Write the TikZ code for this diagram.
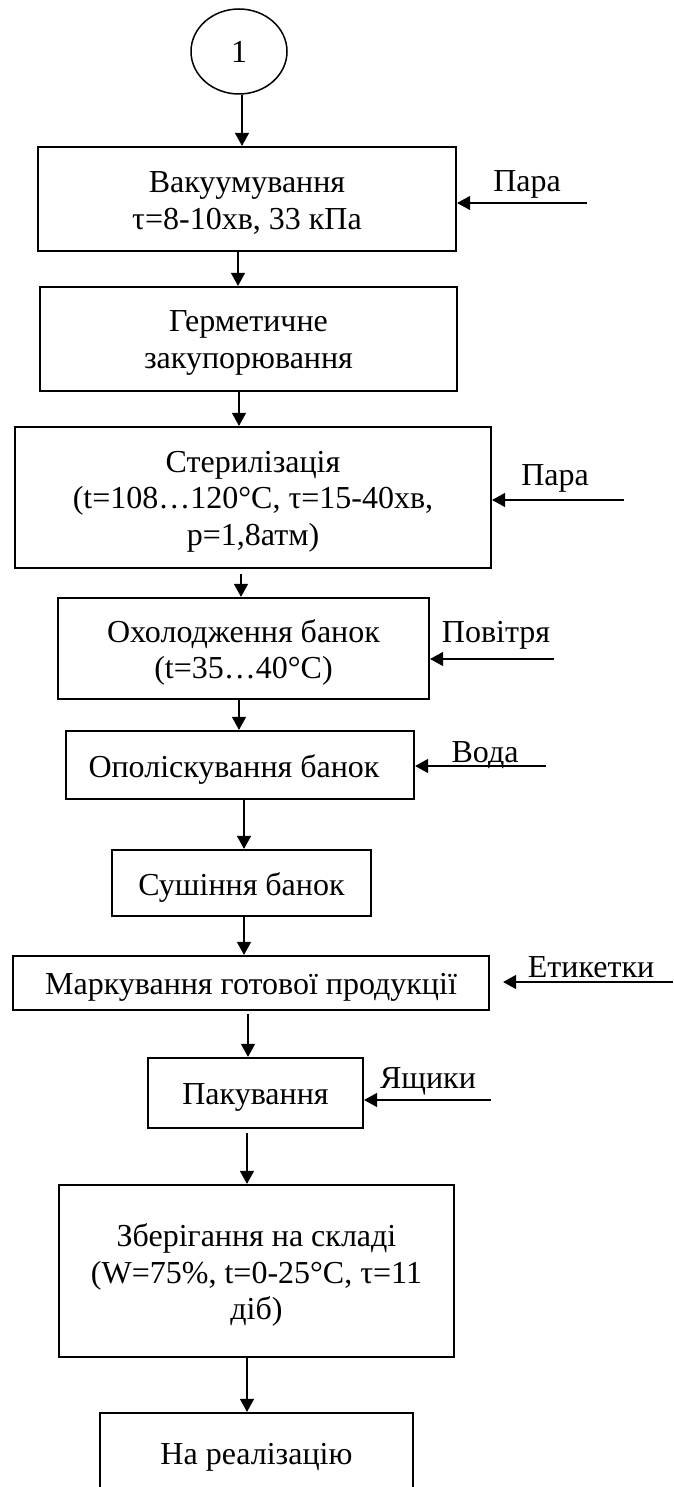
\documentclass[tikz,border=0pt]{standalone}
\usepackage{fontspec}
\setmainfont{Liberation Serif}
\usetikzlibrary{shapes.geometric,arrows.meta}
\begin{document}
\begin{tikzpicture}[x=1pt,y=-1pt,
  every node/.style={font=\fontsize{32}{36.5}\selectfont},
  proc/.style={draw,line width=2.2pt,inner sep=0pt},
  txt/.style={align=center,inner sep=0pt,yshift=-4pt},
  arr/.style={line width=1.1pt,-{Triangle[length=13pt,width=14pt]}},
  lbl/.style={anchor=base,inner sep=0pt}]
\fill[white] (0,0) rectangle (673,1487);
\useasboundingbox (0,0) rectangle (673,1487);
% start connector
\node[ellipse,draw,line width=1.5pt,minimum width=96pt,minimum height=85pt,inner sep=0pt] (c1) at (239,51.5) {1};
% process boxes
\node[proc,minimum width=418pt,minimum height=104pt] (b1) at (247,199) {};
\node[proc,minimum width=417pt,minimum height=104pt] (b2) at (248.5,339) {};
\node[proc,minimum width=476pt,minimum height=141pt] (b3) at (253,497.5) {};
\node[proc,minimum width=371pt,minimum height=101pt] (b4) at (243.5,648.5) {};
\node[proc,minimum width=348pt,minimum height=68pt] (b5) at (240,765) {};
\node[proc,minimum width=259pt,minimum height=66pt] (b6) at (241.5,883) {};
\node[proc,minimum width=476pt,minimum height=54pt] (b7) at (251,983) {};
\node[proc,minimum width=215pt,minimum height=70pt] (b8) at (255.5,1093) {};
\node[proc,minimum width=395pt,minimum height=172pt] (b9) at (256.5,1271) {};
\node[proc,minimum width=313pt,minimum height=80pt] (b10) at (256.5,1453) {};
% box texts
\node[txt] (t1) at (b1) {Вакуумування\\τ=8-10хв, 33 кПа};
\node[txt] (t2) at (b2) {Герметичне\\закупорювання};
\node[txt] (t3) at (b3) {Стерилізація\\(t=108…120°C, τ=15-40хв,\\p=1,8атм)};
\node[txt] (t4) at (b4) {Охолодження банок\\(t=35…40°C)};
\node[txt,xshift=-6pt] (t5) at (b5) {Ополіскування банок};
\node[txt] (t6) at (b6) {Сушіння банок};
\node[txt] (t7) at (b7) {Маркування готової продукції};
\node[txt] (t8) at (b8) {Пакування};
\node[txt] (t9) at (b9) {Зберігання на складі\\(W=75\%, t=0-25°C, τ=11\\діб)};
\node[txt] (t10) at (b10) {На реалізацію};
% x positions of vertical connectors
\coordinate (v1) at (242,0);
\coordinate (v2) at (238,0);
\coordinate (v3) at (239,0);
\coordinate (v4) at (241,0);
\coordinate (v5) at (239,0);
\coordinate (v6) at (244,0);
\coordinate (v7) at (244,0);
\coordinate (v8) at (248,0);
\coordinate (v9) at (247,0);
\coordinate (v10) at (247,0);
\draw[arr] (c1.south -| v1) -- (b1.north -| v1);
\draw[arr] (b1.south -| v2) -- (b2.north -| v2);
\draw[arr] (b2.south -| v3) -- (b3.north -| v3);
\draw[arr,shorten <=5pt] (b3.south -| v4) -- (b4.north -| v4);
\draw[arr] (b4.south -| v5) -- (b5.north -| v5);
\draw[arr] (b5.south -| v6) -- (b6.north -| v6);
\draw[arr] (b6.south -| v7) -- (b7.north -| v7);
\draw[arr,shorten <=3pt] (b7.south -| v8) -- (b8.north -| v8);
\draw[arr,shorten <=4pt] (b8.south -| v9) -- (b9.north -| v9);
\draw[arr] (b9.south -| v10) -- (b10.north -| v10);
% side inputs
\coordinate (s1) at (587,203);
\coordinate (s3) at (624,500);
\coordinate (s4) at (554,659);
\coordinate (s5) at (546,766);
\coordinate (s7) at (673,982);
\coordinate (s8) at (491,1100);
\draw[arr] (s1) -- (b1.east |- s1);
\draw[arr] (s3) -- (b3.east |- s3);
\draw[arr] (s4) -- (b4.east |- s4);
\draw[arr] (s5) -- (b5.east |- s5);
\draw[arr,shorten >=13pt] (s7) -- (b7.east |- s7);
\draw[arr] (s8) -- (b8.east |- s8);
\node[lbl] (l1) at (527,192) {Пара};
\node[lbl] (l3) at (555,485) {Пара};
\node[lbl] (l4) at (496,642) {Повітря};
\node[lbl] (l5) at (485,762) {Вода};
\node[lbl] (l7) at (591,977) {Етикетки};
\node[lbl] (l8) at (428,1088) {Ящики};
\end{tikzpicture}
\end{document}
